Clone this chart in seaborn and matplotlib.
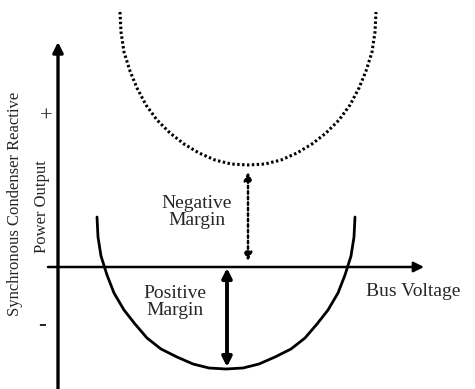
import matplotlib
matplotlib.use("Agg")
import matplotlib.pyplot as plt
import seaborn as sns

# solid curve (present condenser output)
solid_x = [0.39, 0.40, 0.43, 0.49, 0.56, 0.66, 0.77, 0.89, 1.03, 1.19, 1.35, 1.51, 1.68,
           1.85, 2.01, 2.17, 2.33, 2.47, 2.59, 2.70, 2.80, 2.87, 2.93, 2.96, 2.97]
solid_y = [0.50, 0.30, 0.11, -0.08, -0.26, -0.43, -0.57, -0.71, -0.82, -0.90, -0.97, -1.01, -1.02,
           -1.01, -0.97, -0.90, -0.82, -0.71, -0.57, -0.43, -0.26, -0.08, 0.11, 0.30, 0.50]

# dotted curve (shifted upward)
dotted_x = [0.62, 0.63, 0.66, 0.72, 0.79, 0.88, 0.99, 1.12, 1.26, 1.41, 1.57, 1.73, 1.90,
            2.07, 2.23, 2.39, 2.54, 2.68, 2.81, 2.92, 3.01, 3.08, 3.14, 3.17, 3.18]
dotted_y = [2.55, 2.35, 2.15, 1.96, 1.79, 1.62, 1.47, 1.34, 1.23, 1.14, 1.07, 1.03, 1.02,
            1.03, 1.07, 1.14, 1.23, 1.34, 1.47, 1.62, 1.79, 1.96, 2.15, 2.35, 2.55]

# margins (x position, from, to)
neg_margin = [1.90, 0.95, 0.06]
pos_margin = [1.69, -0.01, -1.00]

sns.set_style("white")
plt.rcParams['font.family'] = ['Liberation Serif', 'DejaVu Serif']

fig = plt.figure(figsize=(4.75, 3.89), dpi=100)
ax = fig.add_axes([0, 0, 1, 1])

sns.lineplot(x=solid_x, y=solid_y, sort=False, estimator=None, color='black', lw=2.0, ax=ax)
sns.lineplot(x=dotted_x, y=dotted_y, sort=False, estimator=None, color='black', lw=2.2,
             linestyle=(0, (0.8, 0.8)), ax=ax)

# axes with arrows
ax.annotate("", xy=(0, 2.25), xytext=(0, -1.22),
            arrowprops=dict(arrowstyle="-|>", lw=2.4, color='black', mutation_scale=15,
                            shrinkA=0, shrinkB=0))
ax.annotate("", xy=(3.66, 0), xytext=(-0.10, 0),
            arrowprops=dict(arrowstyle="-|>", lw=1.8, color='black', mutation_scale=15,
                            shrinkA=0, shrinkB=0))

# margin arrows
ax.annotate("", xy=(neg_margin[0], neg_margin[2]), xytext=(neg_margin[0], neg_margin[1]),
            arrowprops=dict(arrowstyle="<|-|>", lw=1.8, color='black', mutation_scale=12,
                            linestyle=(0, (1, 1.2)), shrinkA=0, shrinkB=0))
ax.annotate("", xy=(pos_margin[0], pos_margin[2]), xytext=(pos_margin[0], pos_margin[1]),
            arrowprops=dict(arrowstyle="<|-|>", lw=2.8, color='black', mutation_scale=14,
                            shrinkA=0, shrinkB=0))

# labels
ax.text(1.39, 0.55, "Negative\nMargin", ha='center', va='center', fontsize=14, linespacing=1.05)
ax.text(1.17, -0.35, "Positive\nMargin", ha='center', va='center', fontsize=14, linespacing=1.05)
ax.text(3.08, -0.25, "Bus Voltage", ha='left', va='center', fontsize=14)
ax.text(-0.43, 0.63, "Synchronous Condenser Reactive", rotation=90,
        ha='center', va='center', fontsize=12)
ax.text(-0.155, 0.60, "Power Output", rotation=90,
        ha='center', va='center', fontsize=12)
ax.text(-0.12, 1.50, "+", ha='center', va='center', fontsize=16)
ax.text(-0.16, -0.58, "-", ha='center', va='center', fontsize=17, fontweight='bold')

ax.set_xlim(-0.58, 4.17)
ax.set_ylim(-1.22, 2.67)
ax.axis('off')

fig.savefig("out.png", dpi=100)
